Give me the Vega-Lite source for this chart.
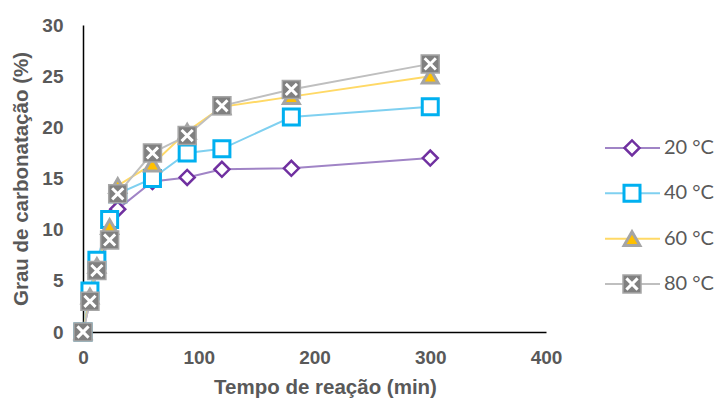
{
  "$schema": "https://vega.github.io/schema/vega-lite/v6.json",
  "background": "white",
  "padding": {"left": 11, "top": 16, "right": 0, "bottom": 0},
  "config": {
    "view": {"stroke": null},
    "axis": {
      "grid": false, "ticks": false, "tickSize": 0, "labelFlush": false,
      "domainColor": "#000000", "domainWidth": 1.5,
      "labelFont": "Liberation Sans", "labelFontWeight": "bold", "labelFontSize": 19, "labelColor": "#595959",
      "titleFont": "Liberation Sans", "titleFontWeight": "bold", "titleFontSize": 20.5, "titleColor": "#595959"
    }
  },
  "datasets": {
    "main": [
      {"s": "20 °C", "t": 0, "v": 0}, {"s": "20 °C", "t": 6, "v": 3}, {"s": "20 °C", "t": 12, "v": 6}, {"s": "20 °C", "t": 23, "v": 9.5}, {"s": "20 °C", "t": 30, "v": 12}, {"s": "20 °C", "t": 60, "v": 14.7}, {"s": "20 °C", "t": 90, "v": 15.1}, {"s": "20 °C", "t": 120, "v": 15.9}, {"s": "20 °C", "t": 180, "v": 16.0}, {"s": "20 °C", "t": 300, "v": 17.0},
      {"s": "40 °C", "t": 0, "v": 0}, {"s": "40 °C", "t": 6, "v": 4}, {"s": "40 °C", "t": 12, "v": 7}, {"s": "40 °C", "t": 23, "v": 11}, {"s": "40 °C", "t": 30, "v": 13.5}, {"s": "40 °C", "t": 60, "v": 15}, {"s": "40 °C", "t": 90, "v": 17.5}, {"s": "40 °C", "t": 120, "v": 17.9}, {"s": "40 °C", "t": 180, "v": 21}, {"s": "40 °C", "t": 300, "v": 22},
      {"s": "60 °C", "t": 0, "v": 0}, {"s": "60 °C", "t": 6, "v": 3.5}, {"s": "60 °C", "t": 12, "v": 6.5}, {"s": "60 °C", "t": 23, "v": 10.3}, {"s": "60 °C", "t": 30, "v": 14.3}, {"s": "60 °C", "t": 60, "v": 16.4}, {"s": "60 °C", "t": 90, "v": 19.6}, {"s": "60 °C", "t": 120, "v": 22}, {"s": "60 °C", "t": 180, "v": 23}, {"s": "60 °C", "t": 300, "v": 25},
      {"s": "80 °C", "t": 0, "v": 0}, {"s": "80 °C", "t": 6, "v": 3}, {"s": "80 °C", "t": 12, "v": 6}, {"s": "80 °C", "t": 23, "v": 9}, {"s": "80 °C", "t": 30, "v": 13.5}, {"s": "80 °C", "t": 60, "v": 17.5}, {"s": "80 °C", "t": 90, "v": 19.2}, {"s": "80 °C", "t": 120, "v": 22.1}, {"s": "80 °C", "t": 180, "v": 23.7}, {"s": "80 °C", "t": 300, "v": 26.2}
    ],
    "legend": [
      {"s": "20 °C", "o": 1}, {"s": "40 °C", "o": 2}, {"s": "60 °C", "o": 3}, {"s": "80 °C", "o": 4}
    ]
  },
  "bounds": "flush",
  "spacing": 54,
  "hconcat": [
    {
      "width": 463,
      "height": 307,
      "data": {"name": "main"},
      "encoding": {
        "x": {"field": "t", "type": "quantitative", "scale": {"domain": [0, 400], "nice": false},
              "axis": {"values": [0, 100, 200, 300, 400], "title": "Tempo de reação (min)", "labelPadding": 16, "titlePadding": 10, "titleX": 242}},
        "y": {"field": "v", "type": "quantitative", "scale": {"domain": [0, 30], "nice": false},
              "axis": {"values": [0, 5, 10, 15, 20, 25, 30], "title": "Grau de carbonatação (%)", "labelPadding": 20, "titlePadding": 10}}
      },
      "layer": [
        {"mark": {"type": "line", "strokeWidth": 2},
         "encoding": {"color": {"field": "s", "type": "nominal", "legend": null,
           "scale": {"domain": ["20 °C", "40 °C", "60 °C", "80 °C"], "range": ["#A084C6", "#7FD0F0", "#FFD966", "#BFBFBF"]}}}},
        {"transform": [{"filter": {"field": "s", "equal": "20 °C"}}],
         "mark": {"type": "point", "shape": "diamond", "filled": true, "fill": "white", "stroke": "#7030A0", "strokeWidth": 2.5, "size": 225, "opacity": 1}},
        {"transform": [{"filter": {"field": "s", "equal": "40 °C"}}],
         "mark": {"type": "point", "shape": "square", "filled": true, "fill": "white", "stroke": "#00B0F0", "strokeWidth": 3, "size": 256, "opacity": 1}},
        {"transform": [{"filter": {"field": "s", "equal": "60 °C"}}],
         "mark": {"type": "point", "shape": "triangle-up", "filled": true, "fill": "#FFC000", "stroke": "#A5A5A5", "strokeWidth": 3, "size": 250, "opacity": 1}},
        {"transform": [{"filter": {"field": "s", "equal": "80 °C"}}],
         "mark": {"type": "point", "shape": "square", "filled": true, "fill": "#808080", "stroke": "#A6A6A6", "strokeWidth": 1.5, "size": 324, "opacity": 1}},
        {"transform": [{"filter": {"field": "s", "equal": "80 °C"}}],
         "mark": {"type": "point", "shape": "M-0.62,-0.62L0.62,0.62M-0.62,0.62L0.62,-0.62", "filled": false, "stroke": "white", "strokeWidth": 3, "size": 324, "opacity": 1}}
      ]
    },
    {
      "width": 116,
      "height": 307,
      "data": {"name": "legend"},
      "encoding": {
        "y": {"field": "o", "type": "quantitative", "scale": {"domain": [-1.713, 5.059], "reverse": true, "nice": false, "zero": false}, "axis": null}
      },
      "layer": [
        {"mark": {"type": "rule", "strokeWidth": 2},
         "encoding": {
           "x": {"datum": 5, "type": "quantitative", "scale": {"domain": [0, 116], "nice": false, "zero": false}, "axis": null},
           "x2": {"datum": 60},
           "color": {"field": "s", "type": "nominal", "legend": null,
             "scale": {"domain": ["20 °C", "40 °C", "60 °C", "80 °C"], "range": ["#A084C6", "#7FD0F0", "#FFD966", "#BFBFBF"]}}}},
        {"transform": [{"filter": {"field": "s", "equal": "20 °C"}}],
         "mark": {"type": "point", "shape": "diamond", "filled": true, "fill": "white", "stroke": "#7030A0", "strokeWidth": 2.5, "size": 225, "opacity": 1},
         "encoding": {"x": {"datum": 32, "type": "quantitative", "axis": null}}},
        {"transform": [{"filter": {"field": "s", "equal": "40 °C"}}],
         "mark": {"type": "point", "shape": "square", "filled": true, "fill": "white", "stroke": "#00B0F0", "strokeWidth": 3, "size": 256, "opacity": 1},
         "encoding": {"x": {"datum": 32, "type": "quantitative", "axis": null}}},
        {"transform": [{"filter": {"field": "s", "equal": "60 °C"}}],
         "mark": {"type": "point", "shape": "triangle-up", "filled": true, "fill": "#FFC000", "stroke": "#A5A5A5", "strokeWidth": 3, "size": 250, "opacity": 1},
         "encoding": {"x": {"datum": 32, "type": "quantitative", "axis": null}}},
        {"transform": [{"filter": {"field": "s", "equal": "80 °C"}}],
         "mark": {"type": "point", "shape": "square", "filled": true, "fill": "#808080", "stroke": "#A6A6A6", "strokeWidth": 1.5, "size": 324, "opacity": 1},
         "encoding": {"x": {"datum": 32, "type": "quantitative", "axis": null}}},
        {"transform": [{"filter": {"field": "s", "equal": "80 °C"}}],
         "mark": {"type": "point", "shape": "M-0.62,-0.62L0.62,0.62M-0.62,0.62L0.62,-0.62", "filled": false, "stroke": "white", "strokeWidth": 3, "size": 324, "opacity": 1},
         "encoding": {"x": {"datum": 32, "type": "quantitative", "axis": null}}},
        {"mark": {"type": "text", "align": "left", "baseline": "middle", "font": "Lato", "fontSize": 20, "color": "#595959"},
         "encoding": {"x": {"datum": 64, "type": "quantitative", "axis": null}, "text": {"field": "s"}}}
      ]
    }
  ]
}
